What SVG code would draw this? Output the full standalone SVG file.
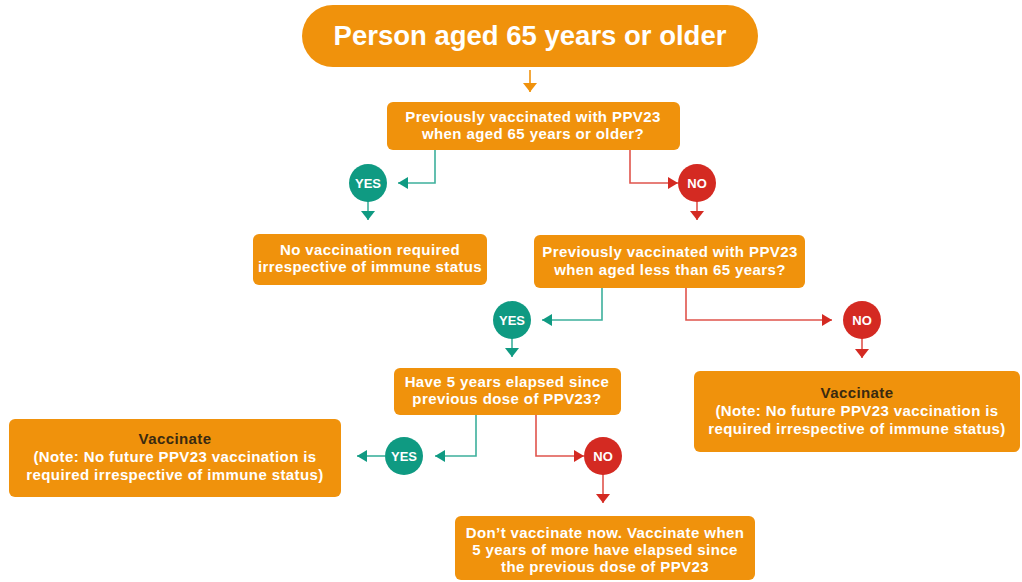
<svg xmlns="http://www.w3.org/2000/svg" width="1022" height="582" viewBox="0 0 1022 582">
<defs>
<style>
.box{fill:#F0920C}
.t{font-family:"Liberation Sans",Arial,sans-serif;font-weight:bold;fill:#fff;text-anchor:middle}
.bt{font-size:15px;letter-spacing:0.4px}
.dark{fill:#3a2a10}
.yes{fill:#0F9A82}
.no{fill:#D42A22}
.cl{font-size:13px}
.ly{fill:none;stroke:#3CB09C;stroke-width:1.6}
.ln{fill:none;stroke:#E0544C;stroke-width:1.6}
.lo{fill:none;stroke:#F0920C;stroke-width:1.6}
</style>
<marker id="ay" viewBox="0 0 10 12" refX="10" refY="6" markerWidth="10" markerHeight="12" markerUnits="userSpaceOnUse" orient="auto"><path d="M0,0 L10,6 L0,12 z" fill="#0F9A82"/></marker>
<marker id="an" viewBox="0 0 10 12" refX="10" refY="6" markerWidth="10" markerHeight="12" markerUnits="userSpaceOnUse" orient="auto"><path d="M0,0 L10,6 L0,12 z" fill="#D42A22"/></marker>
<marker id="dy" viewBox="0 0 9 14" refX="9" refY="7" markerWidth="9" markerHeight="14" markerUnits="userSpaceOnUse" orient="auto"><path d="M0,0 L9,7 L0,14 z" fill="#0F9A82"/></marker>
<marker id="dn" viewBox="0 0 9 14" refX="9" refY="7" markerWidth="9" markerHeight="14" markerUnits="userSpaceOnUse" orient="auto"><path d="M0,0 L9,7 L0,14 z" fill="#D42A22"/></marker>
<marker id="do" viewBox="0 0 9 14" refX="9" refY="7" markerWidth="9" markerHeight="14" markerUnits="userSpaceOnUse" orient="auto"><path d="M0,0 L9,7 L0,14 z" fill="#F0920C"/></marker>
</defs>
<rect width="1022" height="582" fill="#fff"/>

<g id="connectors">
<path class="lo" d="M530,70 V92" marker-end="url(#do)"/>
<path class="ly" d="M435,150 V183 H398" marker-end="url(#ay)"/>
<path class="ln" d="M630,150 V183 H678" marker-end="url(#an)"/>
<path class="ly" d="M368,201 V220" marker-end="url(#dy)"/>
<path class="ln" d="M697,201 V220" marker-end="url(#dn)"/>
<path class="ly" d="M602,288 V320 H542" marker-end="url(#ay)"/>
<path class="ln" d="M686,288 V320 H832" marker-end="url(#an)"/>
<path class="ly" d="M512,338 V357" marker-end="url(#dy)"/>
<path class="ln" d="M862,338 V358" marker-end="url(#dn)"/>
<path class="ly" d="M476,415 V456 H435" marker-end="url(#ay)"/>
<path class="ly" d="M385,456 H357" marker-end="url(#ay)"/>
<path class="ln" d="M536,415 V456 H584" marker-end="url(#an)"/>
<path class="ln" d="M603,474 V503" marker-end="url(#dn)"/>
</g>

<g id="start">
<rect class="box" x="302" y="5" width="456" height="62" rx="31"/>
<text class="t" x="530" y="45" font-size="27.5">Person aged 65 years or older</text>
</g>

<g id="q1">
<rect class="box" x="387" y="102" width="293" height="48" rx="6"/>
<text class="t bt" x="533" y="122">Previously vaccinated with PPV23</text>
<text class="t bt" x="533" y="139">when aged 65 years or older?</text>
</g>

<g id="yes1">
<circle class="yes" cx="368" cy="183" r="19"/>
<text class="t cl" x="368" y="188">YES</text>
</g>
<g id="no1">
<circle class="no" cx="697" cy="183" r="19"/>
<text class="t cl" x="697" y="188">NO</text>
</g>

<g id="novacc">
<rect class="box" x="253" y="234" width="234" height="51" rx="6"/>
<text class="t bt" x="370" y="255">No vaccination required</text>
<text class="t bt" x="370" y="272">irrespective of immune status</text>
</g>

<g id="q2">
<rect class="box" x="534" y="235" width="271" height="53" rx="6"/>
<text class="t bt" x="670" y="257">Previously vaccinated with PPV23</text>
<text class="t bt" x="670" y="275">when aged less than 65 years?</text>
</g>

<g id="yes2">
<circle class="yes" cx="512" cy="320" r="19"/>
<text class="t cl" x="512" y="325">YES</text>
</g>
<g id="no2">
<circle class="no" cx="862" cy="320" r="19"/>
<text class="t cl" x="862" y="325">NO</text>
</g>

<g id="q3">
<rect class="box" x="394" y="368" width="227" height="47" rx="6"/>
<text class="t bt" x="507" y="387">Have 5 years elapsed since</text>
<text class="t bt" x="507" y="404">previous dose of PPV23?</text>
</g>

<g id="vacc-right">
<rect class="box" x="694" y="371" width="326" height="81" rx="6"/>
<text class="t bt dark" x="857" y="398">Vaccinate</text>
<text class="t bt" x="857" y="416">(Note: No future PPV23 vaccination is</text>
<text class="t bt" x="857" y="434">required irrespective of immune status)</text>
</g>

<g id="yes3">
<circle class="yes" cx="404" cy="456" r="19"/>
<text class="t cl" x="404" y="461">YES</text>
</g>
<g id="no3">
<circle class="no" cx="603" cy="456" r="19"/>
<text class="t cl" x="603" y="461">NO</text>
</g>

<g id="vacc-left">
<rect class="box" x="9" y="419" width="332" height="78" rx="6"/>
<text class="t bt dark" x="175" y="444">Vaccinate</text>
<text class="t bt" x="175" y="462">(Note: No future PPV23 vaccination is</text>
<text class="t bt" x="175" y="480">required irrespective of immune status)</text>
</g>

<g id="wait">
<rect class="box" x="455" y="516" width="300" height="64" rx="6"/>
<text class="t bt" x="605" y="538">Don’t vaccinate now. Vaccinate when</text>
<text class="t bt" x="605" y="555">5 years of more have elapsed since</text>
<text class="t bt" x="605" y="572">the previous dose of PPV23</text>
</g>
</svg>
